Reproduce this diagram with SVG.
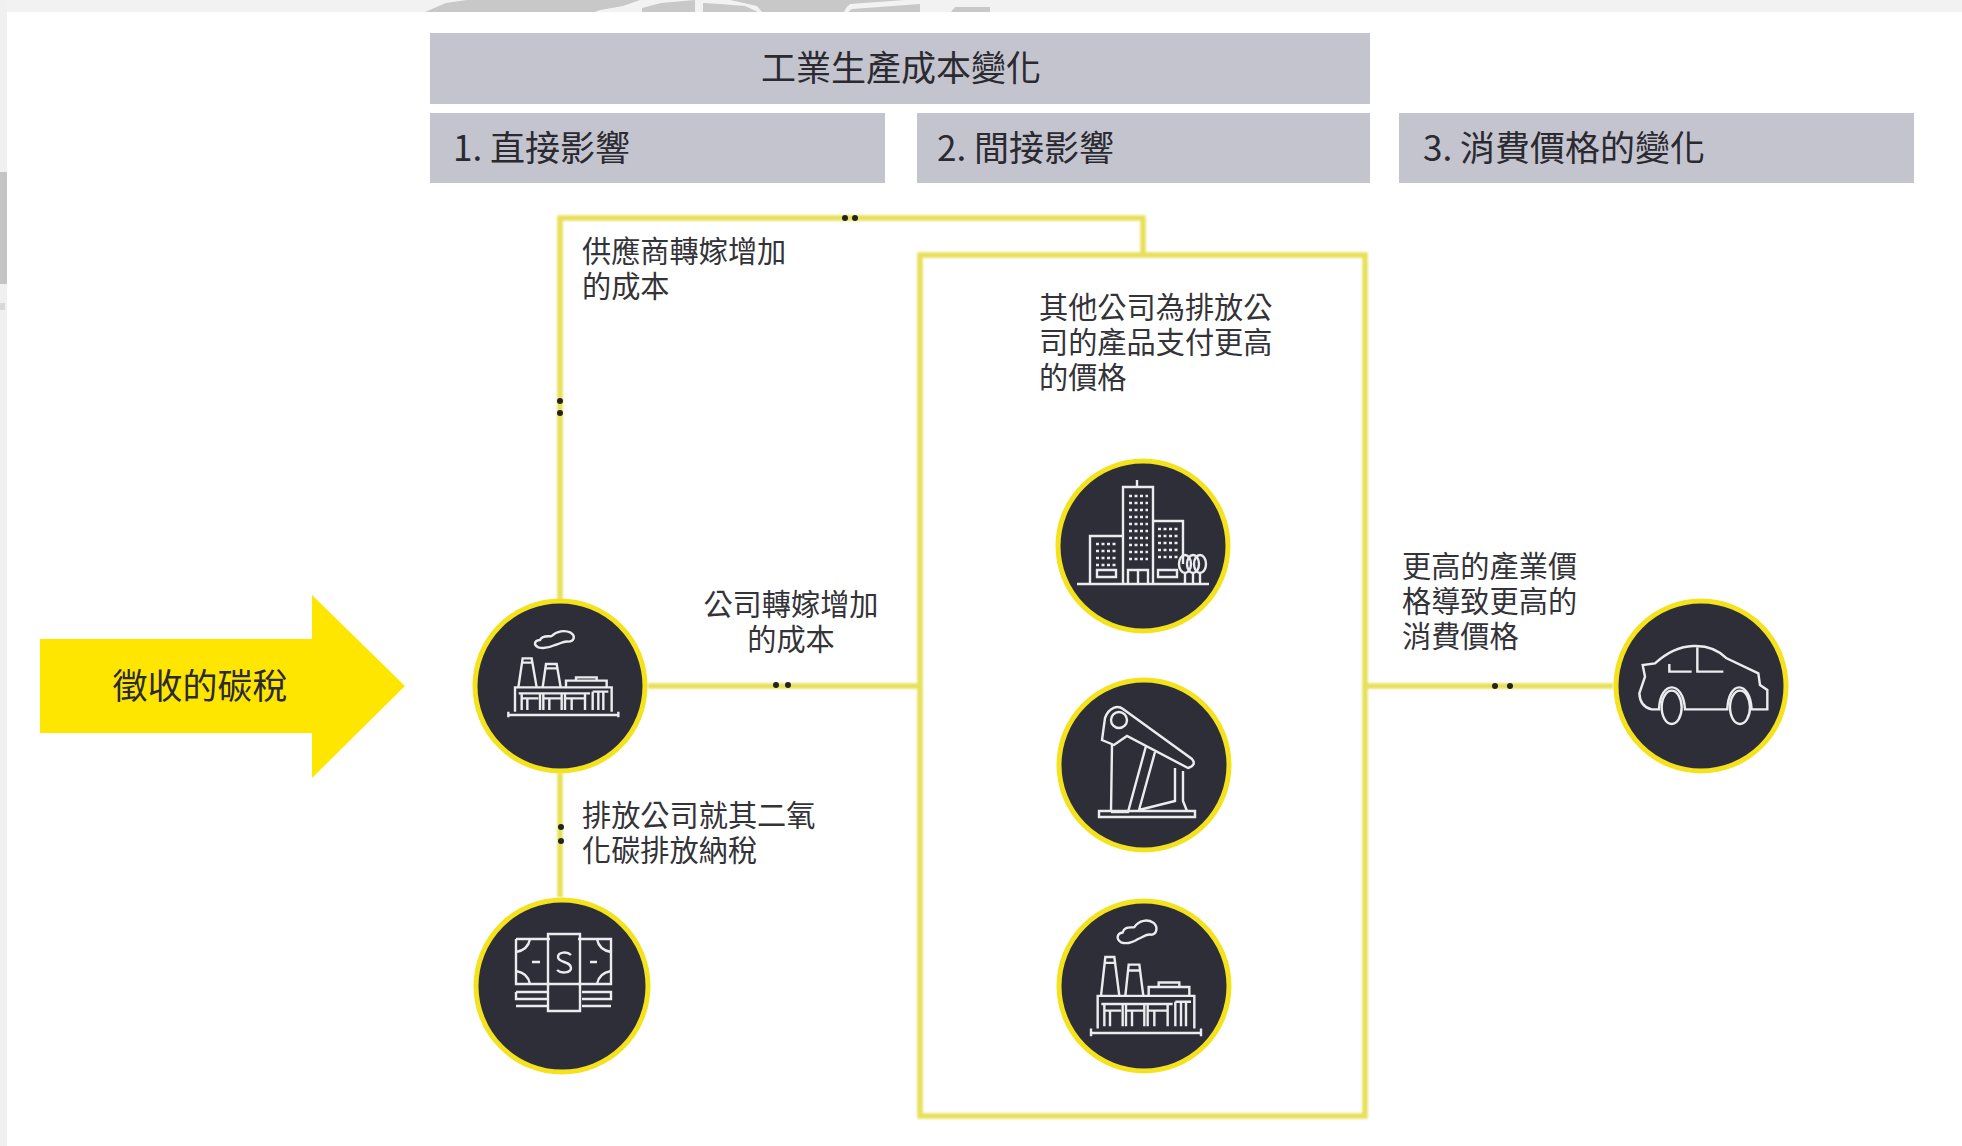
<svg xmlns="http://www.w3.org/2000/svg" xmlns:xlink="http://www.w3.org/1999/xlink" width="1962" height="1146" viewBox="0 0 1962 1146">
<style>
text{font-family:"Noto Sans CJK TC","Noto Sans CJK SC",sans-serif;fill:#333338}
.h{font-size:35px;fill:#2a2a30}
.b{font-size:29.2px}
.m{text-anchor:middle}
.band{fill:#c4c4cf}
.ln{fill:none;stroke:#e7e05a;stroke-width:5.5}
.disc{fill:#2e2e38;stroke:#f3e21c;stroke-width:5}
.ic{fill:none;stroke:#ececf0;stroke-width:2.4;vector-effect:non-scaling-stroke}
.ic *{vector-effect:non-scaling-stroke}
.dot{fill:#23231c}
</style>
<defs>
<filter id="soft" x="-5%" y="-5%" width="110%" height="110%"><feGaussianBlur stdDeviation="0.9"/></filter>
<g id="factory" class="ic">
<path d="M205 425V442M535 425V442M205 435H535M225 425V352H515V425"/>
<path d="M235 352L248 265H275L290 352M248 278H275M308 352L318 282H350L362 352M318 295H350"/>
<path d="M378 352V332H500V352M408 332V322H470V332"/>
<path d="M236 370H450M245 370V420M300 370V420M310 370V420M365 370V420M375 370V420M435 370V420M248 385H295M313 385H362M378 385H432M262 385V420M328 385V420M395 385V420M458 365H505M458 365V420M475 365V420M490 365V420"/>
<path d="M295 232C280 225 282 212 300 210C305 195 325 200 335 198C350 182 375 180 392 188C408 198 402 215 385 215C370 212 360 222 345 225C330 232 310 236 295 232Z"/>
</g>
</defs>

<g id="background">
<rect width="1962" height="1146" fill="#fff"/>
<rect width="1962" height="12" fill="#f2f2f2"/>
<rect width="7" height="1146" fill="#f0f0f0"/>
<rect y="172" width="7" height="112" fill="#c4c4c4"/>
<rect y="303" width="5" height="7" fill="#d8d8d8"/>
<path d="M425 12L446 3L467 0H640L623 6L600 10L595 12ZM642 12V8L661 3L695 0V12ZM703 12V3L720 4L745 6L758 12ZM762 12L757 6L730 0H905L850 4L846 8L844 12ZM848 12L852 9L920 4V12ZM951 12L955 7H990V12Z" fill="#c8c8c8"/>
</g>

<g id="connectors">
<g filter="url(#soft)">
<path class="ln" d="M560 600V218H1143V255"/>
<path class="ln" d="M648 686H920"/>
<path class="ln" d="M560 773V897"/>
<path class="ln" d="M1365 686H1613"/>
</g>
<ellipse class="dot" cx="845" cy="218" rx="3" ry="3"/><ellipse class="dot" cx="855" cy="218" rx="3" ry="3"/>
<ellipse class="dot" cx="560" cy="401" rx="3" ry="3"/><ellipse class="dot" cx="560" cy="413" rx="3" ry="3"/>
<ellipse class="dot" cx="776" cy="685" rx="3" ry="3"/><ellipse class="dot" cx="788" cy="685" rx="3" ry="3"/>
<ellipse class="dot" cx="561" cy="827" rx="3" ry="3"/><ellipse class="dot" cx="561" cy="841" rx="3" ry="3"/>
<ellipse class="dot" cx="1495" cy="686" rx="3" ry="3"/><ellipse class="dot" cx="1510" cy="686" rx="3" ry="3"/>
</g>

<g id="header-main"><rect class="band" x="430" y="33" width="940" height="71"/><text class="h m" x="901" y="81">工業生產成本變化</text></g>
<g id="header-1"><rect class="band" x="430" y="113" width="455" height="70"/><text class="h" x="453" y="161">1. 直接影響</text></g>
<g id="header-2"><rect class="band" x="917" y="113" width="453" height="70"/><text class="h" x="937" y="161">2. 間接影響</text></g>
<g id="header-3"><rect class="band" x="1399" y="113" width="515" height="70"/><text class="h" x="1423" y="161">3. 消費價格的變化</text></g>

<g id="carbon-tax">
<path d="M40 639H312V595L405 686L312 778V733H40Z" fill="#ffe600"/>
<text class="h m" x="200" y="699">徵收的碳稅</text>
</g>

<g id="indirect-box">
<rect class="ln" x="920" y="255" width="445" height="861" filter="url(#soft)"/>
<text class="b" x="1039" y="318">其他公司為排放公</text>
<text class="b" x="1039" y="353">司的產品支付更高</text>
<text class="b" x="1039" y="388">的價格</text>
</g>

<g id="label-supplier"><text class="b" x="582" y="262">供應商轉嫁增加</text><text class="b" x="582" y="297">的成本</text></g>
<g id="label-company"><text class="b m" x="791" y="615">公司轉嫁增加</text><text class="b m" x="791" y="650">的成本</text></g>
<g id="label-tax"><text class="b" x="582" y="826">排放公司就其二氧</text><text class="b" x="582" y="861">化碳排放納稅</text></g>
<g id="label-consumer"><text class="b" x="1402" y="577">更高的產業價</text><text class="b" x="1402" y="612">格導致更高的</text><text class="b" x="1402" y="647">消費價格</text></g>

<g id="node-emitter">
<circle class="disc" cx="560" cy="686" r="85"/>
<use xlink:href="#factory" href="#factory" transform="translate(560 686) scale(.3333) translate(-360 -348)"/>
</g>

<g id="node-money">
<circle class="disc" cx="562" cy="986" r="86"/>
<g class="ic" transform="translate(564 984)">
<path d="M-48 -45V0H-14M-14 -45H-48M14 -45H47V0H14"/>
<path d="M-16 -50H16V27H-16Z"/>
<path d="M-48 -32Q-36 -34 -34 -45M47 -32Q35 -34 33 -45M-48 -13Q-36 -11 -34 0M47 -13Q35 -11 33 0"/>
<path d="M-32 -22H-24M26 -22H33M-16 0H16M-48 8H-16M-48 8V15H-16M-48 22H-16M18 8H47V15H18M18 22H47"/>
<path d="M7 -29C3 -33 -6 -32 -6 -27C-6 -21 7 -23 7 -16C7 -11 -3 -10 -7 -14"/>
</g>
</g>

<g id="node-city">
<circle class="disc" cx="1143" cy="546" r="85"/>
<g class="ic" transform="translate(1143 546)">
<path d="M-66 38H66M-53 38V-10H-20M-20 38V-59H10V38M10 -25H40V18M10 38H20M-6 -59V-66"/>
<path d="M-15 38V24H5V38M-5 24V38M-46 24H-27V31H-46ZM15 24H34V31H15Z"/>
<path d="M-14 -50H5M-14 -43H5M-14 -36H5M-14 -29H5M-14 -22H5M-14 -15H5M-14 -8H5M-14 -1H5M-14 6H5M-14 13H5M-47 -2H-25M-47 5H-25M-47 12H-25M-47 19H-25M15 -17H36M15 -10H36M15 -3H36M15 4H36M15 11H36" stroke-dasharray="3 2.5"/>
<ellipse cx="42" cy="18" rx="6" ry="9"/><ellipse cx="50" cy="18" rx="6" ry="9"/><ellipse cx="57" cy="18" rx="6" ry="9"/>
<path d="M42 27V38M50 27V38M57 27V38"/>
</g>
</g>

<g id="node-pump">
<circle class="disc" cx="1144" cy="765" r="85"/>
<g class="ic" transform="translate(1144 765)">
<path d="M-45 46H51V52H-45Z"/>
<circle cx="-25" cy="-45" r="8"/>
<path d="M-21 -56L48 -6Q53 0 44 3L-17 -29L-30 -20L-42 -25L-39 -47C-35 -58 -26 -60 -21 -56Z"/>
<path d="M-32 -20L-33 46M-33 47H-16L2 -19M11 -13L-5 45L31 36V3M39 6V36L43 46"/>
</g>
</g>

<g id="node-factory">
<circle class="disc" cx="1144" cy="986" r="85"/>
<use xlink:href="#factory" href="#factory" transform="translate(1146 1033) scale(.3333 .4468) translate(-370 -435)"/>
</g>

<g id="node-car">
<circle class="disc" cx="1701" cy="686" r="85"/>
<g class="ic" transform="translate(1701 686) scale(.3333) translate(-1023 -468)">
<path d="M897 538H875Q840 530 838 490L855 440L848 405L885 400Q940 350 1000 348Q1060 345 1100 385L1195 430L1200 465L1222 480V538H1175C1170 450 1105 450 1102 538H975C970 450 900 450 897 538Z"/>
<ellipse cx="935" cy="532" rx="30" ry="50"/><ellipse cx="1140" cy="532" rx="30" ry="50"/>
<path d="M928 402V425H995M1012 352V425H1090"/>
</g>
</g>
</svg>
